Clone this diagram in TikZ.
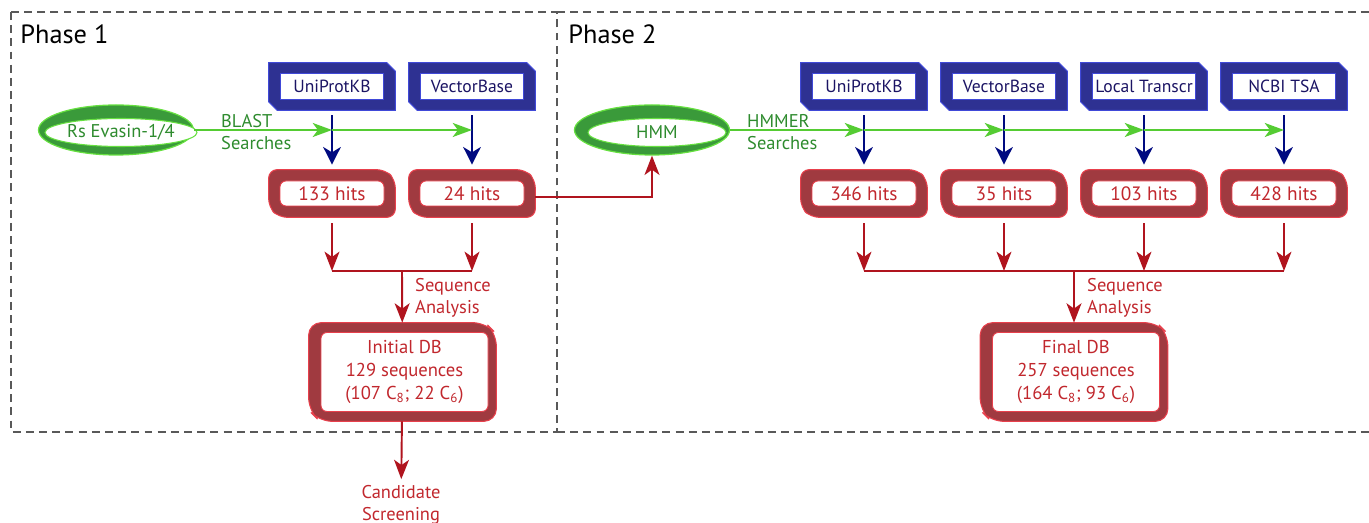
\documentclass[tikz,border=0pt]{standalone}
\usepackage{fontspec}
\setmainfont{PT Sans}
\usetikzlibrary{shapes.geometric,arrows.meta}
\definecolor{dbblue}{HTML}{2E3192}
\definecolor{dbedge}{HTML}{4049D8}
\definecolor{dbtext}{HTML}{1B1464}
\definecolor{arrblue}{HTML}{000A80}
\definecolor{hitred}{HTML}{A03A40}
\definecolor{hitedge}{HTML}{E8404C}
\definecolor{hittext}{HTML}{C1272D}
\definecolor{arrred}{HTML}{B0141E}
\definecolor{seedgreen}{HTML}{3A9A3A}
\definecolor{seededge}{HTML}{66E040}
\definecolor{seedtext}{HTML}{2E8B2E}
\definecolor{arrgreen}{HTML}{55CC33}

\begin{document}
\begin{tikzpicture}[
  font=\fontsize{10.5}{12.5}\selectfont,
  frame/.style={draw=black!65,line width=0.8pt,dash pattern=on 4.5pt off 3pt},
  phase/.style={anchor=base west,inner sep=0pt,font=\fontsize{15}{17}\selectfont},
  db/.style={minimum width=2.52cm,minimum height=0.94cm,inner sep=0pt},
  dbshape/.style={fill=dbblue,draw=dbedge,line width=0.6pt},
  dbin/.style={fill=white,draw=dbedge,line width=0.5pt,minimum width=2.06cm,minimum height=0.52cm,inner sep=0pt,text=dbtext,font=\fontsize{10}{12}\selectfont},
  hit/.style={minimum width=2.52cm,minimum height=0.94cm,inner sep=0pt},
  hitshape/.style={fill=hitred,draw=hitedge,line width=0.6pt,rounded corners=0.17cm},
  hitin/.style={rounded corners=0.12cm,fill=white,draw=hitedge,line width=0.5pt,minimum width=2.08cm,minimum height=0.5cm,inner sep=0pt,text=hittext,font=\fontsize{11}{13}\selectfont},
  final/.style={hit,minimum width=3.74cm,minimum height=1.96cm},
  finalin/.style={hitin,minimum width=3.34cm,minimum height=1.58cm,align=center,font=\fontsize{10.6}{13.3}\selectfont},
  seed/.style={ellipse,fill=seedgreen,draw=seededge,line width=0.7pt,minimum width=3.1cm,minimum height=1.0cm},
  seedin/.style={ellipse,fill=white,draw=seededge,line width=0.6pt,minimum width=2.76cm,minimum height=0.56cm,inner sep=0pt,text=seedtext},
  greenarr/.style={draw=arrgreen,line width=1.1pt,-{Stealth[length=11pt,width=8pt,inset=3pt]}},
  bluearr/.style={draw=arrblue,line width=1.4pt,-{Stealth[length=10pt,width=10pt,inset=3pt]},shorten <=0.1cm,shorten >=0.1cm},
  redarr/.style={draw=arrred,line width=1.1pt,-{Stealth[length=11pt,width=8.5pt,inset=3pt]}},
  redline/.style={draw=arrred,line width=1.1pt},
  note/.style={anchor=west,align=left},
  noteg/.style={note,text=seedtext},
  noter/.style={note,text=hittext}
]
\useasboundingbox (0,0) rectangle (27.38,-10.46);

\draw[frame] (0.22,-0.24) rectangle (11.14,-8.64);
\draw[frame] (11.14,-0.24) -- (27.6,-0.24);
\draw[frame] (11.14,-8.64) -- (27.6,-8.64);
\node[phase] (ph1) at (0.40,-0.88) {Phase 1};
\node[phase] (ph2) at (11.36,-0.88) {Phase 2};

\node[seed] (rs) at (2.32,-2.6) {};
\node[seedin] (rsl) at ([xshift=0.1cm,yshift=-0.05cm]rs.center) {Rs Evasin-1/4};
\node[seed] (hmm) at (13.04,-2.6) {};
\node[seedin] (hmml) at ([xshift=0.1cm,yshift=-0.05cm]hmm.center) {HMM};

\foreach \name/\hits/\x [count=\i] in {UniProtKB/133/6.64,VectorBase/24/9.44}{
  \node[db] (dbA\i) at (\x,-1.73) {};
  \filldraw[dbshape] (dbA\i.north west) -- ([xshift=-0.17cm]dbA\i.north east) -- ([yshift=-0.17cm]dbA\i.north east)
    -- (dbA\i.south east) -- ([xshift=0.17cm]dbA\i.south west) -- ([yshift=0.17cm]dbA\i.south west) -- cycle;
  \node[dbin] at (dbA\i) {\name};
  \node[hit] (hitA\i) at (\x,-3.87) {};
  \filldraw[hitshape] (hitA\i.north west) -- ([xshift=-0.2cm]hitA\i.north east) -- ([yshift=-0.2cm]hitA\i.north east)
    -- (hitA\i.south east) -- ([xshift=0.2cm]hitA\i.south west) -- ([yshift=0.2cm]hitA\i.south west) -- cycle;
  \node[hitin] at (hitA\i) {\hits{} hits};
  \coordinate (gA\i) at (rs -| dbA\i);
  \draw[bluearr] (dbA\i) -- (hitA\i);
}
\foreach \name/\hits/\x [count=\i] in {UniProtKB/346/17.28,VectorBase/35/20.08,Local Transcr/103/22.88,NCBI TSA/428/25.68}{
  \node[db] (dbB\i) at (\x,-1.73) {};
  \filldraw[dbshape] (dbB\i.north west) -- ([xshift=-0.17cm]dbB\i.north east) -- ([yshift=-0.17cm]dbB\i.north east)
    -- (dbB\i.south east) -- ([xshift=0.17cm]dbB\i.south west) -- ([yshift=0.17cm]dbB\i.south west) -- cycle;
  \node[dbin] at (dbB\i) {\name};
  \node[hit] (hitB\i) at (\x,-3.87) {};
  \filldraw[hitshape] (hitB\i.north west) -- ([xshift=-0.2cm]hitB\i.north east) -- ([yshift=-0.2cm]hitB\i.north east)
    -- (hitB\i.south east) -- ([xshift=0.2cm]hitB\i.south west) -- ([yshift=0.2cm]hitB\i.south west) -- cycle;
  \node[hitin] at (hitB\i) {\hits{} hits};
  \coordinate (gB\i) at (hmm -| dbB\i);
  \draw[bluearr] (dbB\i) -- (hitB\i);
}

\draw[greenarr] (rs) -- (gA1);
\draw[greenarr] (gA1) -- (gA2);
\node[noteg] (blast) at (4.30,-2.64) {BLAST\\Searches};
\draw[greenarr] (hmm) -- (gB1);
\draw[greenarr] (gB1) -- (gB2);
\draw[greenarr] (gB2) -- (gB3);
\draw[greenarr] (gB3) -- (gB4);
\node[noteg] (hmmer) at (14.82,-2.64) {HMMER\\Searches};

\coordinate (jA) at (8.04,-5.42);
\coordinate (jB) at (21.48,-5.42);
\foreach \i in {1,2}{
  \draw[redarr,shorten <=0.12cm] (hitA\i) -- (hitA\i |- jA);
}
\foreach \i in {1,...,4}{
  \draw[redarr,shorten <=0.12cm] (hitB\i) -- (hitB\i |- jB);
}
\draw[redline] (hitA1 |- jA) -- (hitA2 |- jA);
\draw[redline] (hitB1 |- jB) -- (hitB4 |- jB);

\node[final] (initdb) at (8.05,-7.44) {};
\filldraw[hitshape,rounded corners=0.25cm] (initdb.north west) -- ([xshift=-0.22cm]initdb.north east) -- ([yshift=-0.22cm]initdb.north east)
  -- (initdb.south east) -- ([xshift=0.22cm]initdb.south west) -- ([yshift=0.22cm]initdb.south west) -- cycle;
\node[finalin] at ([xshift=0.04cm]initdb.center) {Initial DB\\129 sequences\\(107 C\textsubscript{8}; 22 C\textsubscript{6})};
\node[final] (finaldb) at (21.48,-7.44) {};
\filldraw[hitshape,rounded corners=0.25cm] (finaldb.north west) -- ([xshift=-0.22cm]finaldb.north east) -- ([yshift=-0.22cm]finaldb.north east)
  -- (finaldb.south east) -- ([xshift=0.22cm]finaldb.south west) -- ([yshift=0.22cm]finaldb.south west) -- cycle;
\node[finalin] at ([xshift=0.04cm]finaldb.center) {Final DB\\257 sequences\\(164 C\textsubscript{8}; 93 C\textsubscript{6})};

\draw[redarr] (jA) -- (initdb);
\node[noter] (seqA) at (8.18,-5.96) {Sequence\\Analysis};
\draw[redarr] (jB) -- (finaldb);
\node[noter] (seqB) at (21.62,-5.96) {Sequence\\Analysis};

\draw[redarr] ([yshift=-0.07cm]hitA2.east) -| (hmm.south);

\node[align=center,text=hittext,inner sep=0pt] (cand) at (8.02,-10.1) {Candidate\\Screening};
\draw[redarr,shorten >=0.12cm] (initdb) -- (cand);
\end{tikzpicture}
\end{document}
